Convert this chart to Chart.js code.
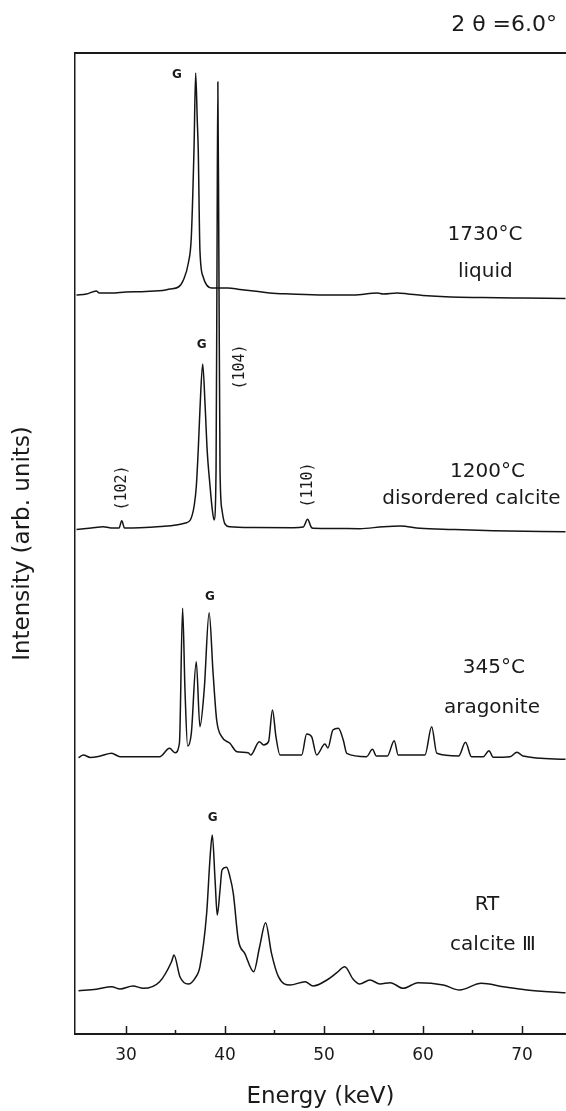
<!DOCTYPE html>
<html>
<head>
<meta charset="utf-8">
<script src="https://cdn.jsdelivr.net/npm/chart.js@4.4.1/dist/chart.umd.min.js"></script>
<style>
  html, body { margin: 0; padding: 0; background: #fff; }
</style>
</head>
<body>
<canvas id="xrdChart" width="566" height="1111"></canvas>
<script>
var tickValues = [30, 35, 40, 45, 50, 55, 60, 65, 70];

// 1730 C, liquid
var liquidEnergy = [25.0, 26.0, 27.0, 27.3, 28.5, 30.0, 32.0, 34.0, 34.4, 35.3, 35.8, 36.3, 36.6, 36.87, 37.04, 37.2, 37.3, 37.47, 37.8, 38.15, 38.7, 39.0, 40.3, 41.5, 42.9, 44.5, 46.6, 50.0, 53.0, 55.4, 56.0, 57.4, 58.5, 60.0, 62.8, 66.0, 70.0, 74.4];
var liquidIntensity = [-3, -2, 1, -1, -1, 0, 0.5, 2, 3, 5, 12, 29, 55, 142, 219, 172, 142, 42, 15, 7, 4, 4, 4, 2.5, 1, -1, -2, -3, -3, -1, -2, -1, -2, -3.5, -5, -5.5, -6, -6.5];

// 1200 C, disordered calcite
var disorderedEnergy = [25.0, 26.5, 27.7, 28.5, 29.3, 29.57, 29.85, 31.4, 33.5, 35.1, 36.0, 36.5, 36.9, 37.1, 37.3, 37.47, 37.75, 38.0, 38.2, 38.5, 38.7, 38.9, 39.1, 39.2, 39.28, 39.38, 39.5, 39.7, 40.0, 40.5, 43.0, 46.9, 47.9, 48.35, 48.7, 48.9, 51.0, 53.6, 56.0, 57.7, 59.7, 63.0, 67.1, 74.4];
var disorderedIntensity = [-1.5, 0, 1.3, 0, 0, 7.3, 0, 0.3, 1.5, 3, 5, 8, 23, 41, 78, 118, 164, 121, 78, 41, 20, 8, 58, 278, 446, 278, 58, 18, 4, 1.3, 0.5, 0.3, 1, 8.7, 1, -0.3, -0.5, -0.7, 1.3, 2, -0.3, -1.5, -2.7, -3.7];

// 345 C, aragonite
var aragoniteEnergy = [25.2, 25.7, 26.4, 27.4, 28.55, 29.4, 33.4, 34.4, 34.95, 35.4, 35.72, 35.96, 36.23, 36.6, 37.1, 37.47, 37.9, 38.4, 38.8, 39.16, 39.67, 40.5, 41.2, 42.35, 42.6, 43.47, 43.9, 44.4, 44.8, 45.15, 45.56, 47.75, 48.25, 48.75, 49.26, 50.1, 50.4, 50.9, 51.45, 51.95, 52.3, 54.3, 54.9, 55.3, 56.4, 57.1, 57.5, 60.2, 60.88, 61.4, 63.6, 64.3, 64.9, 66.1, 66.67, 67.1, 68.8, 69.5, 70.1, 74.4];
var aragoniteIntensity = [-1.7, 1, -1.5, 0, 2.7, -0.7, -0.7, 7.7, 3.3, 13, 147.7, 66, 10, 22.7, 94.3, 29.3, 66, 143.3, 82.7, 36, 19.3, 12.7, 4.3, 3.3, 1, 14.3, 11, 14.3, 46, 19.3, 1, 1, 22, 19.3, 1, 12, 8, 26, 27.7, 16, 2.7, -0.7, 6.7, 0, 0, 15.3, 1, 1, 29.3, 2.7, 0, 13.7, -0.7, -0.7, 5.3, -1.3, -0.7, 3.7, 0, -3.3];

// RT, calcite III
var calciteEnergy = [25.2, 27.0, 28.55, 29.4, 30.7, 31.75, 33.4, 34.6, 34.85, 35.45, 36.3, 36.97, 37.47, 38.15, 38.5, 38.72, 39.0, 39.22, 39.5, 39.7, 40.17, 40.5, 40.84, 41.35, 42.0, 42.9, 43.5, 44.1, 44.7, 45.4, 46.57, 48.1, 48.9, 50.3, 51.3, 52.1, 52.95, 53.6, 54.65, 55.66, 56.7, 58.0, 59.5, 62.05, 63.7, 65.9, 68.1, 70.5, 74.4];
var calciteIntensity = [-1.7, -0.3, 2.3, 0, 3, 0.7, 7.3, 27.3, 34, 12.3, 5, 10.7, 22.3, 75.7, 132.3, 154, 109, 74, 99, 119, 121.7, 112.3, 95.7, 49, 35.7, 17.3, 42.3, 66.3, 35.7, 12.3, 4, 7.3, 3, 9, 16.3, 22.3, 9.7, 5, 9, 5, 6.3, 0.7, 6.3, 4, -1, 5.7, 2.3, -1, -3.7];

// vertical shift of each trace in the stack
var traceOffsets = [742, 506, 278, 45];

var peakLabels = ['G', 'G', 'G', 'G'];
var peakLabelEnergy = [35.15, 37.65, 38.49, 38.76];
var peakLabelLevel = [959, 689, 437, 216];

var reflections = ['(104)', '(102)', '(110)'];
var reflectionEnergy = [41.52, 29.57, 48.42];
var reflectionLevel = [667, 546, 549];

var sampleTemps = ['1730°C', '1200°C', '345°C', 'RT'];
var sampleTempEnergy = [66.26, 66.52, 67.17, 66.47];
var sampleTempLevel = [799, 562, 366, 129];
var samplePhases = ['liquid', 'disordered calcite', 'aragonite', 'calcite Ⅲ'];
var samplePhaseEnergy = [66.3, 64.9, 66.97, 67.07];
var samplePhaseLevel = [762, 535, 326, 89];

function stackPoints(energy, intensity, offset) {
  return energy.map(function(e, i) {
    return { x: e, y: intensity[i] + offset };
  });
}

function traceDataset(label, energy, intensity, offset) {
  return {
    label: label,
    data: stackPoints(energy, intensity, offset),
    borderColor: '#141414',
    borderWidth: 1.5,
    pointRadius: 0,
    fill: false,
    cubicInterpolationMode: 'monotone'
  };
}

var textPlugin = {
  id: 'figureText',
  afterDraw: function(chart) {
    var ctx = chart.ctx;
    var xs = chart.scales.x, ys = chart.scales.y;
    ctx.save();

    // ticks point into the plot
    ctx.strokeStyle = '#1a1a1a';
    ctx.lineWidth = 1.5;
    tickValues.forEach(function(v) {
      var px = Math.round(xs.getPixelForValue(v)) + 0.5;
      var len = v % 10 === 0 ? 8 : 4;
      ctx.beginPath();
      ctx.moveTo(px, ys.bottom);
      ctx.lineTo(px, ys.bottom - len);
      ctx.stroke();
    });

    ctx.fillStyle = '#1a1a1a';
    ctx.textAlign = 'center';
    ctx.textBaseline = 'middle';

    ctx.font = 'bold 12px "DejaVu Sans"';
    peakLabels.forEach(function(t, i) {
      ctx.fillText(t, xs.getPixelForValue(peakLabelEnergy[i]), ys.getPixelForValue(peakLabelLevel[i]));
    });

    ctx.font = '15px "DejaVu Sans Mono"';
    reflections.forEach(function(t, i) {
      ctx.save();
      ctx.translate(xs.getPixelForValue(reflectionEnergy[i]), ys.getPixelForValue(reflectionLevel[i]));
      ctx.rotate(-Math.PI / 2);
      ctx.fillText(t, 0, 0);
      ctx.restore();
    });

    ctx.font = '20px "DejaVu Sans"';
    sampleTemps.forEach(function(t, i) {
      ctx.fillText(t, xs.getPixelForValue(sampleTempEnergy[i]), ys.getPixelForValue(sampleTempLevel[i]));
    });
    samplePhases.forEach(function(t, i) {
      ctx.fillText(t, xs.getPixelForValue(samplePhaseEnergy[i]), ys.getPixelForValue(samplePhaseLevel[i]));
    });

    ctx.font = '22px "DejaVu Sans"';
    ctx.textAlign = 'right';
    ctx.fillText('2 θ =6.0°', 557, 25);
    ctx.restore();
  }
};

Chart.defaults.font.family = '"DejaVu Sans", sans-serif';
Chart.defaults.color = '#1a1a1a';

var ctx = document.getElementById('xrdChart').getContext('2d');
var xrdChart = new Chart(ctx, {
  type: 'line',
  data: {
    datasets: [
      traceDataset('1730°C liquid', liquidEnergy, liquidIntensity, traceOffsets[0]),
      traceDataset('1200°C disordered calcite', disorderedEnergy, disorderedIntensity, traceOffsets[1]),
      traceDataset('345°C aragonite', aragoniteEnergy, aragoniteIntensity, traceOffsets[2]),
      traceDataset('RT calcite III', calciteEnergy, calciteIntensity, traceOffsets[3])
    ]
  },
  options: {
    responsive: false,
    animation: false,
    layout: { padding: { top: 53, right: 0, bottom: 0, left: 0 } },
    plugins: {
      legend: { display: false },
      tooltip: { enabled: false }
    },
    scales: {
      x: {
        type: 'linear',
        position: 'bottom',
        min: 24.85,
        max: 74.45,
        afterBuildTicks: function(axis) {
          axis.ticks = tickValues.map(function(v) { return { value: v }; });
        },
        grid: { display: false, drawTicks: false },
        border: { display: true, color: '#1a1a1a', width: 2 },
        ticks: {
          padding: 11,
          maxRotation: 0,
          autoSkip: false,
          font: { size: 17 },
          callback: function(v) { return v % 10 === 0 ? v : ''; }
        },
        title: {
          display: true,
          text: 'Energy (keV)',
          font: { size: 23 },
          padding: { top: 7, bottom: 0 }
        }
      },
      xTop: {
        type: 'linear',
        position: 'top',
        min: 24.85,
        max: 74.45,
        grid: { display: false, drawTicks: false },
        border: { display: true, color: '#1a1a1a', width: 2 },
        ticks: { display: false }
      },
      y: {
        type: 'linear',
        min: 0,
        max: 981,
        grid: { display: false, drawTicks: false },
        border: { display: true, color: '#1a1a1a', width: 1.5 },
        ticks: { display: false },
        title: {
          display: true,
          text: 'Intensity (arb. units)',
          font: { size: 23 },
          padding: { top: 9, bottom: 38.4 }
        }
      }
    }
  },
  plugins: [textPlugin]
});
</script>
</body>
</html>
